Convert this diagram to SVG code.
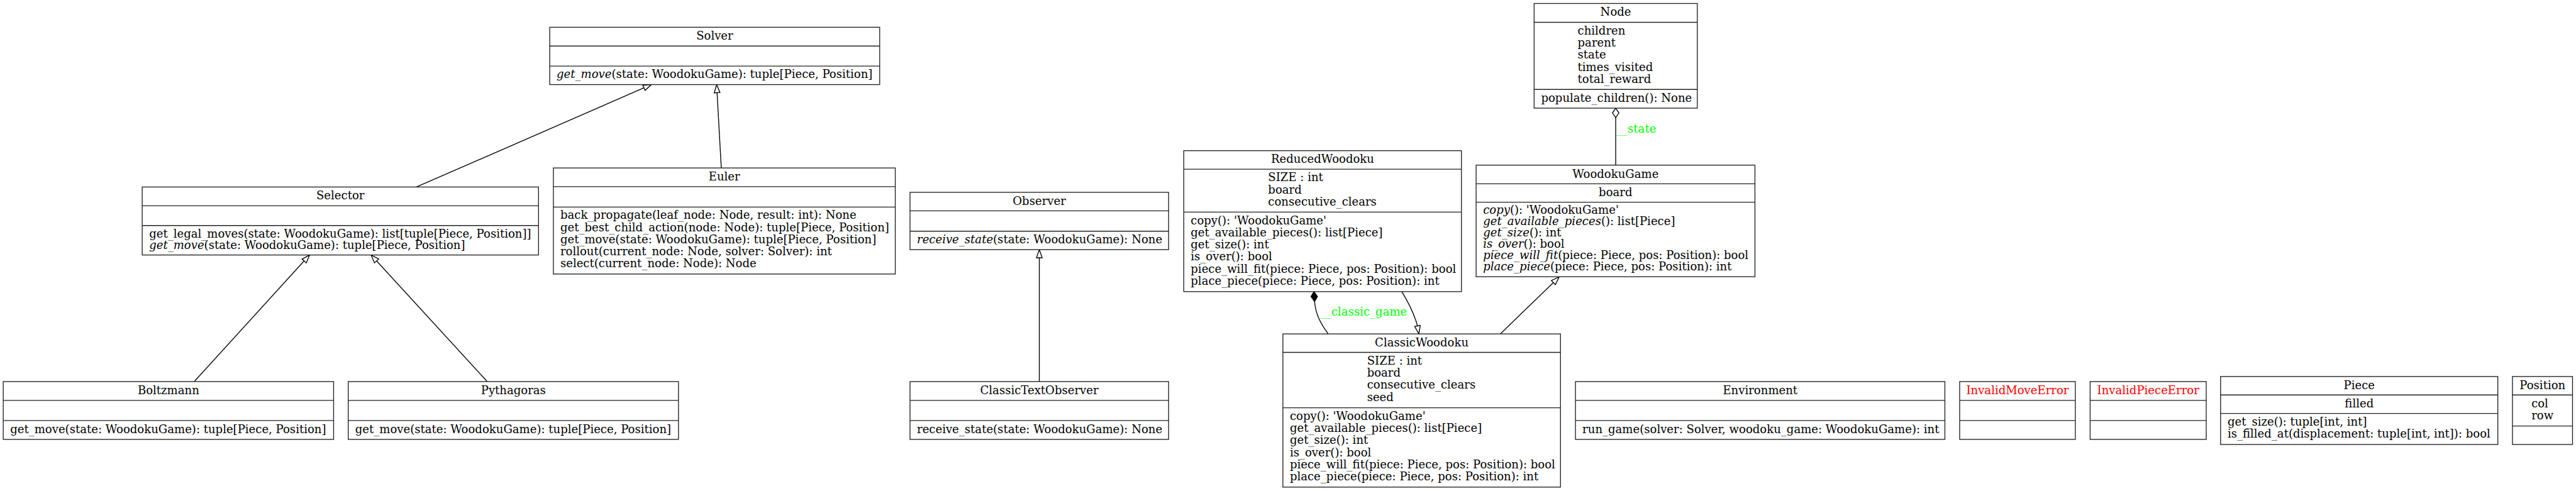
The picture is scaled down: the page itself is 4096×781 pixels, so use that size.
<svg xmlns="http://www.w3.org/2000/svg" width="4096" height="781" viewBox="0 0 4096 781">
<style>
.bx{fill:#fff;stroke:#222;stroke-width:1.4}
.sep{stroke:#222;stroke-width:1.4}
text{font-family:"DejaVu Serif","Liberation Serif",serif;font-size:18.67px;fill:#000}
.c{text-anchor:middle}
.i{font-style:italic}
.red{fill:#ff0000}
.grn{fill:#00ff00}
.e{fill:none;stroke:#000;stroke-width:1.4}
.ah{fill:#fff;stroke:#000;stroke-width:1.4}
.af{fill:#000;stroke:#000;stroke-width:1.4}
</style>
<rect x="0" y="0" width="4096" height="781" fill="#fff"/>
<g transform="scale(0.968)">
<g id="connectors">
<path class="e" d="M684,307.3L1057.8,144.3"/>
<polygon class="ah" points="1070,139 1059.7,148.6 1055.9,140"/>
<path class="e" d="M1184.8,276L1177.9,152.3"/>
<polygon class="ah" points="1177.2,139 1182.6,152 1173.2,152.6"/>
<path class="e" d="M319,627L499.6,428.8"/>
<polygon class="ah" points="508.6,419 503.1,432 496.2,425.7"/>
<path class="e" d="M800.4,627L618.6,428.8"/>
<polygon class="ah" points="609.6,419 622.1,425.6 615.1,432"/>
<path class="e" d="M1707.2,627L1707.2,423.5"/>
<polygon class="ah" points="1707.2,410.2 1711.9,423.5 1702.5,423.5"/>
<path class="e" d="M2302.7,479.3C2314,498 2323,515 2328.4,535.6"/>
<polygon class="ah" points="2330.7,548.7 2333,534.8 2323.8,536.4"/>
<path class="e" d="M2159.3,495.3C2161,515 2168,530 2181.7,548.7"/>
<polygon class="af" points="2158.3,479.3 2164.1,487.3 2159.3,495.3 2153.5,487.3"/>
<text class="grn" x="2168.3" y="519">__classic_game</text>
<path class="e" d="M2464.4,548.7L2551.6,464.3"/>
<polygon class="ah" points="2561.2,455 2554.9,467.7 2548.4,460.9"/>
<path class="e" d="M2654,271.3L2654,193.3"/>
<polygon class="ah" points="2654,177.7 2659.3,185.5 2654,193.3 2648.7,185.5"/>
<text class="grn" x="2655" y="218.3">__state</text>
</g>
<g id="Solver">
<rect class="bx" x="903" y="44.8" width="542" height="94.2"/>
<path class="sep" d="M903,75.7H1445M903,108.6H1445"/>
<text class="c" x="1174" y="65.3">Solver</text>
<text x="914.3" y="128.2"><tspan class="i">get_move</tspan>(state: WoodokuGame): tuple[Piece, Position]</text>
</g>
<g id="Selector">
<rect class="bx" x="233.6" y="307.3" width="651" height="111.7"/>
<path class="sep" d="M233.6,338.2H884.6M233.6,370.6H884.6"/>
<text class="c" x="559.1" y="327.8">Selector</text>
<text x="245" y="390.4">get_legal_moves(state: WoodokuGame): list[tuple[Piece, Position]]</text>
<text x="245" y="409"><tspan class="i">get_move</tspan>(state: WoodokuGame): tuple[Piece, Position]</text>
</g>
<g id="Euler">
<rect class="bx" x="909" y="276" width="561.6" height="174.3"/>
<path class="sep" d="M909,306.7H1470.6M909,340.3H1470.6"/>
<text class="c" x="1189.8" y="296.5">Euler</text>
<text x="920.4" y="360">back_propagate(leaf_node: Node, result: int): None</text>
<text x="920.4" y="379.8">get_best_child_action(node: Node): tuple[Piece, Position]</text>
<text x="920.4" y="399.6">get_move(state: WoodokuGame): tuple[Piece, Position]</text>
<text x="920.4" y="419.4">rollout(current_node: Node, solver: Solver): int</text>
<text x="920.4" y="439.2">select(current_node: Node): Node</text>
</g>
<g id="Boltzmann">
<rect class="bx" x="5.3" y="627" width="542.7" height="95"/>
<path class="sep" d="M5.3,658H548M5.3,691H548"/>
<text class="c" x="276.7" y="647.5">Boltzmann</text>
<text x="16.7" y="711.3">get_move(state: WoodokuGame): tuple[Piece, Position]</text>
</g>
<g id="Pythagoras">
<rect class="bx" x="572" y="627" width="542.5" height="95"/>
<path class="sep" d="M572,658H1114.5M572,691H1114.5"/>
<text class="c" x="843.3" y="647.5">Pythagoras</text>
<text x="583.4" y="711.3">get_move(state: WoodokuGame): tuple[Piece, Position]</text>
</g>
<g id="Observer">
<rect class="bx" x="1494.8" y="316" width="424.8" height="94.2"/>
<path class="sep" d="M1494.8,346.4H1919.6M1494.8,379.9H1919.6"/>
<text class="c" x="1707.2" y="336.5">Observer</text>
<text x="1506.2" y="399.5"><tspan class="i">receive_state</tspan>(state: WoodokuGame): None</text>
</g>
<g id="ClassicTextObserver">
<rect class="bx" x="1494.8" y="627" width="424.8" height="95"/>
<path class="sep" d="M1494.8,658H1919.6M1494.8,691H1919.6"/>
<text class="c" x="1707.2" y="647.5">ClassicTextObserver</text>
<text x="1506.2" y="711.3">receive_state(state: WoodokuGame): None</text>
</g>
<g id="ReducedWoodoku">
<rect class="bx" x="1944.5" y="247.6" width="456.1" height="231.6"/>
<path class="sep" d="M1944.5,278H2400.6M1944.5,348.5H2400.6"/>
<text class="c" x="2172.5" y="268">ReducedWoodoku</text>
<text x="2083" y="298">SIZE : int</text>
<text x="2083" y="317.9">board</text>
<text x="2083" y="337.8">consecutive_clears</text>
<text x="1955.9" y="368.3">copy(): 'WoodokuGame'</text>
<text x="1955.9" y="388.2">get_available_pieces(): list[Piece]</text>
<text x="1955.9" y="408.1">get_size(): int</text>
<text x="1955.9" y="428">is_over(): bool</text>
<text x="1955.9" y="447.9">piece_will_fit(piece: Piece, pos: Position): bool</text>
<text x="1955.9" y="467.8">place_piece(piece: Piece, pos: Position): int</text>
</g>
<g id="WoodokuGame">
<rect class="bx" x="2424.7" y="271.3" width="458" height="183.4"/>
<path class="sep" d="M2424.7,302H2882.7M2424.7,332.3H2882.7"/>
<text class="c" x="2653.7" y="292">WoodokuGame</text>
<text class="c" x="2653.7" y="322">board</text>
<text x="2436.1" y="351.7"><tspan class="i">copy</tspan>(): 'WoodokuGame'</text>
<text x="2436.1" y="370.2"><tspan class="i">get_available_pieces</tspan>(): list[Piece]</text>
<text x="2436.1" y="388.7"><tspan class="i">get_size</tspan>(): int</text>
<text x="2436.1" y="407.2"><tspan class="i">is_over</tspan>(): bool</text>
<text x="2436.1" y="425.7"><tspan class="i">piece_will_fit</tspan>(piece: Piece, pos: Position): bool</text>
<text x="2436.1" y="444.2"><tspan class="i">place_piece</tspan>(piece: Piece, pos: Position): int</text>
</g>
<g id="Node">
<rect class="bx" x="2520" y="5.7" width="268" height="172"/>
<path class="sep" d="M2520,36.7H2788M2520,147H2788"/>
<text class="c" x="2654" y="26">Node</text>
<text x="2591.5" y="56.7">children</text>
<text x="2591.5" y="76.6">parent</text>
<text x="2591.5" y="96.5">state</text>
<text x="2591.5" y="116.4">times_visited</text>
<text x="2591.5" y="136.3">total_reward</text>
<text x="2531.4" y="167.5">populate_children(): None</text>
</g>
<g id="ClassicWoodoku">
<rect class="bx" x="2107.3" y="548.7" width="456" height="251.7"/>
<path class="sep" d="M2107.3,579H2563.3M2107.3,670H2563.3"/>
<text class="c" x="2335.3" y="569">ClassicWoodoku</text>
<text x="2245.5" y="599">SIZE : int</text>
<text x="2245.5" y="618.9">board</text>
<text x="2245.5" y="638.8">consecutive_clears</text>
<text x="2245.5" y="658.7">seed</text>
<text x="2118.7" y="690">copy(): 'WoodokuGame'</text>
<text x="2118.7" y="709.9">get_available_pieces(): list[Piece]</text>
<text x="2118.7" y="729.8">get_size(): int</text>
<text x="2118.7" y="749.7">is_over(): bool</text>
<text x="2118.7" y="769.6">piece_will_fit(piece: Piece, pos: Position): bool</text>
<text x="2118.7" y="789.5">place_piece(piece: Piece, pos: Position): int</text>
</g>
<g id="Environment">
<rect class="bx" x="2587.9" y="627" width="606.8" height="95"/>
<path class="sep" d="M2587.9,658H3194.7M2587.9,691H3194.7"/>
<text class="c" x="2891.3" y="647.5">Environment</text>
<text x="2599.3" y="711.3">run_game(solver: Solver, woodoku_game: WoodokuGame): int</text>
</g>
<g id="InvalidMoveError">
<rect class="bx" x="3219" y="627" width="190" height="95"/>
<path class="sep" d="M3219,658H3409M3219,691H3409"/>
<text class="c red" x="3314" y="647.5">InvalidMoveError</text>
</g>
<g id="InvalidPieceError">
<rect class="bx" x="3433.3" y="627" width="190.7" height="95"/>
<path class="sep" d="M3433.3,658H3624M3433.3,691H3624"/>
<text class="c red" x="3528.6" y="647.5">InvalidPieceError</text>
</g>
<g id="Piece">
<rect class="bx" x="3647.6" y="618.7" width="455.4" height="111.7"/>
<path class="sep" d="M3647.6,649H4103M3647.6,679.4H4103"/>
<text class="c" x="3875.3" y="639">Piece</text>
<text class="c" x="3875.3" y="669.5">filled</text>
<text x="3659" y="699.4">get_size(): tuple[int, int]</text>
<text x="3659" y="719.3">is_filled_at(displacement: tuple[int, int]): bool</text>
</g>
<g id="Position">
<rect class="bx" x="4127" y="618.7" width="98.7" height="111.7"/>
<path class="sep" d="M4127,649H4225.7M4127,700H4225.7"/>
<text class="c" x="4176.4" y="639">Position</text>
<text x="4158.2" y="669">col</text>
<text x="4158.2" y="688.9">row</text>
</g>
</g>
</svg>
